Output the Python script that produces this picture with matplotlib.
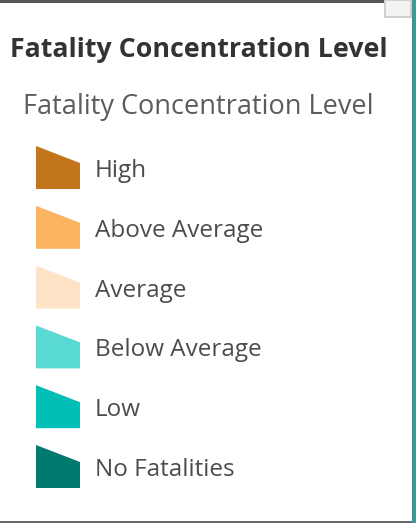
import matplotlib
matplotlib.use("Agg")
import matplotlib.pyplot as plt
from matplotlib.patches import Polygon, Rectangle

# Legend content
title = "Fatality Concentration Level"
subtitle = "Fatality Concentration Level"
labels = ["High", "Above Average", "Average", "Below Average", "Low", "No Fatalities"]
colors = ["#c2751a", "#fbb461", "#fee3c6", "#59d9d4", "#00bfb7", "#00796f"]

W, H = 416, 523
fig = plt.figure(figsize=(W / 100, H / 100), dpi=100)
ax = fig.add_axes([0, 0, 1, 1])
ax.set_xlim(0, W)
ax.set_ylim(H, 0)
ax.axis("off")

font = "Open Sans"

# frame bits (screenshot borders)
ax.add_patch(Rectangle((0, 0), W, 2.5, color="#555555", lw=0))
ax.add_patch(Rectangle((0, H - 2.5), W, 2.5, color="#6a6a6a", lw=0))
ax.add_patch(Rectangle((411.5, 0), 1.5, H, color="#777777", lw=0))
ax.add_patch(Rectangle((413, 0), 3, H, color="#2aa39c", lw=0))
ax.add_patch(Rectangle((385, 0), 26, 17, facecolor="#f4f4f4", edgecolor="#d0d0d0", lw=1.5))

ax.text(10, 57, title, fontsize=19.3, fontweight="bold", color="#333333",
        family=font, va="baseline", ha="left")
ax.text(23, 114, subtitle, fontsize=19.5, color="#5c5c5c",
        family=font, va="baseline", ha="left")

top0 = 146
step = 59.8
sw, sh = 44, 43
for i, (lab, c) in enumerate(zip(labels, colors)):
    y0 = top0 + i * step
    x0 = 36
    pts = [(x0, y0), (x0 + sw, y0 + 17), (x0 + sw, y0 + sh), (x0, y0 + sh)]
    ax.add_patch(Polygon(pts, closed=True, facecolor=c, edgecolor="none"))
    ax.text(95, y0 + sh - 12, lab, fontsize=17.5, color="#4c4c4c",
            family=font, va="baseline", ha="left")

fig.savefig("out.png", dpi=100)
